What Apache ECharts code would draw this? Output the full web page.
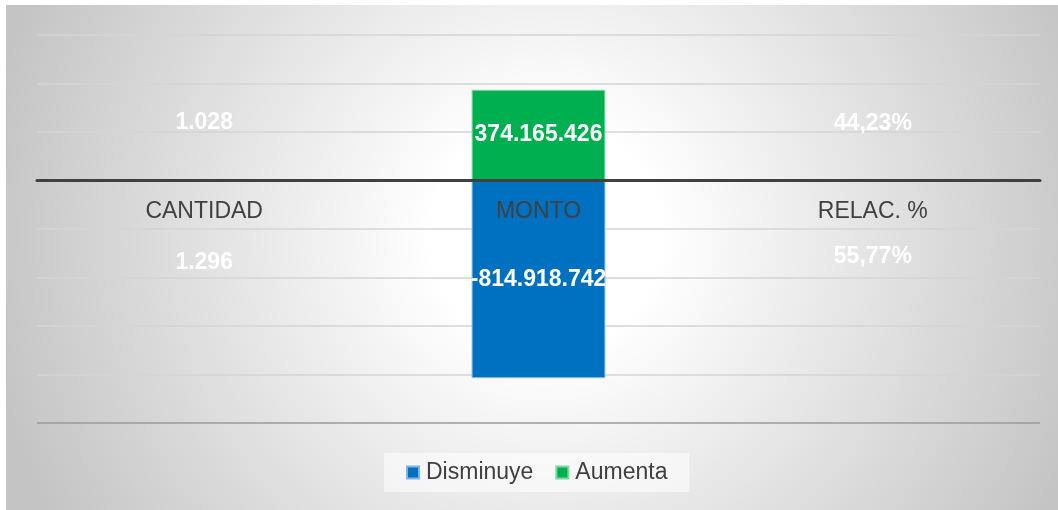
<!DOCTYPE html>
<html>
<head>
<meta charset="utf-8">
<script src="https://cdn.jsdelivr.net/npm/echarts@6/dist/echarts.min.js"></script>
<style>
	html, body { margin: 0; padding: 0; background: #ffffff; }
	#main { position: absolute; left: 6px; top: 5px; width: 1052px; height: 505px; }
</style>
</head>
<body>
<div id="main"></div>
<script>
'use strict';

// chart data
const categories = ['CANTIDAD', 'MONTO', 'RELAC. %'];
const disminuye = [-1296, -814918742, -55.77];
const aumenta = [1028, 374165426, 44.23];

// spanish number format: 1.234.567 / 44,23%
function formatValue(value, index) {
	if (index === 2) {
		return Math.abs(value).toFixed(2).replace('.', ',') + '%';
	}
	let v = index === 1 ? value : Math.abs(value);
	const sign = v < 0 ? '-' : '';
	v = Math.round(Math.abs(v)).toString().replace(/\B(?=(\d{3})+(?!\d))/g, '.');
	return sign + v;
}

// small bars get their labels moved away from the zero line
const upOffset = [-58, 0, -57];
const downOffset = [82, 0, 76];

function buildData(values, offsets) {
	const data = [];
	for (let i = 0; i < values.length; i++) {
		data.push({ value: values[i], label: { offset: [0, offsets[i]] } });
	}
	return data;
}

const labelStyle = {
	show: true,
	position: 'inside',
	color: '#ffffff',
	fontSize: 23,
	fontWeight: 'bold',
	fontFamily: 'Liberation Sans, Arial, sans-serif',
	formatter: function(p) { return formatValue(p.value, p.dataIndex); }
};

const gridColors = ['#9a9a9a', '#d4d4d4', '#d4d4d4', '#d4d4d4', '#d4d4d4', '#d4d4d4', '#d4d4d4', '#d4d4d4', '#d4d4d4'];

var myChart = echarts.init(document.getElementById('main'));

var option = {
	animation: false,
	backgroundColor: {
		type: 'radial',
		x: 540,
		y: 230,
		r: 570,
		global: true,
		colorStops: [
			{ offset: 0, color: '#ffffff' },
			{ offset: 0.2, color: '#ffffff' },
			{ offset: 1, color: '#c4c4c4' }
		]
	},
	textStyle: { fontFamily: 'Liberation Sans, Arial, sans-serif' },
	grid: { left: 31, right: 18, top: 30, bottom: 87 },
	legend: {
		left: 378,
		top: 448,
		padding: [8, 22],
		itemGap: 22,
		itemWidth: 12,
		itemHeight: 12,
		icon: 'rect',
		backgroundColor: 'rgba(255,255,255,0.55)',
		textStyle: { color: '#404040', fontSize: 23, padding: [0, 0, 0, 2] },
		data: ['Disminuye', 'Aumenta']
	},
	xAxis: {
		type: 'category',
		data: categories,
		z: 5,
		axisLine: { onZero: true, lineStyle: { color: '#404040', width: 3 } },
		axisTick: { show: false },
		// labels sit just under the zero line
		axisLabel: { color: '#404040', fontSize: 23, margin: -223 },
		splitLine: { show: false }
	},
	yAxis: {
		type: 'value',
		min: -1000000000,
		max: 600000000,
		interval: 200000000,
		axisLabel: { show: false },
		axisLine: { show: false },
		axisTick: { show: false },
		splitLine: { lineStyle: { color: gridColors, width: 1.5 } }
	},
	series: [
		{
			name: 'Disminuye',
			type: 'bar',
			barWidth: '40%',
			barGap: '-100%',
			itemStyle: { color: '#0070c0', borderColor: '#7fb5e0', borderWidth: 1 },
			label: labelStyle,
			data: buildData(disminuye, downOffset)
		},
		{
			name: 'Aumenta',
			type: 'bar',
			barWidth: '40%',
			barGap: '-100%',
			itemStyle: { color: '#00b050', borderColor: '#7fd8a4', borderWidth: 1 },
			label: labelStyle,
			data: buildData(aumenta, upOffset)
		}
	]
};

myChart.setOption(option);
</script>
</body>
</html>
